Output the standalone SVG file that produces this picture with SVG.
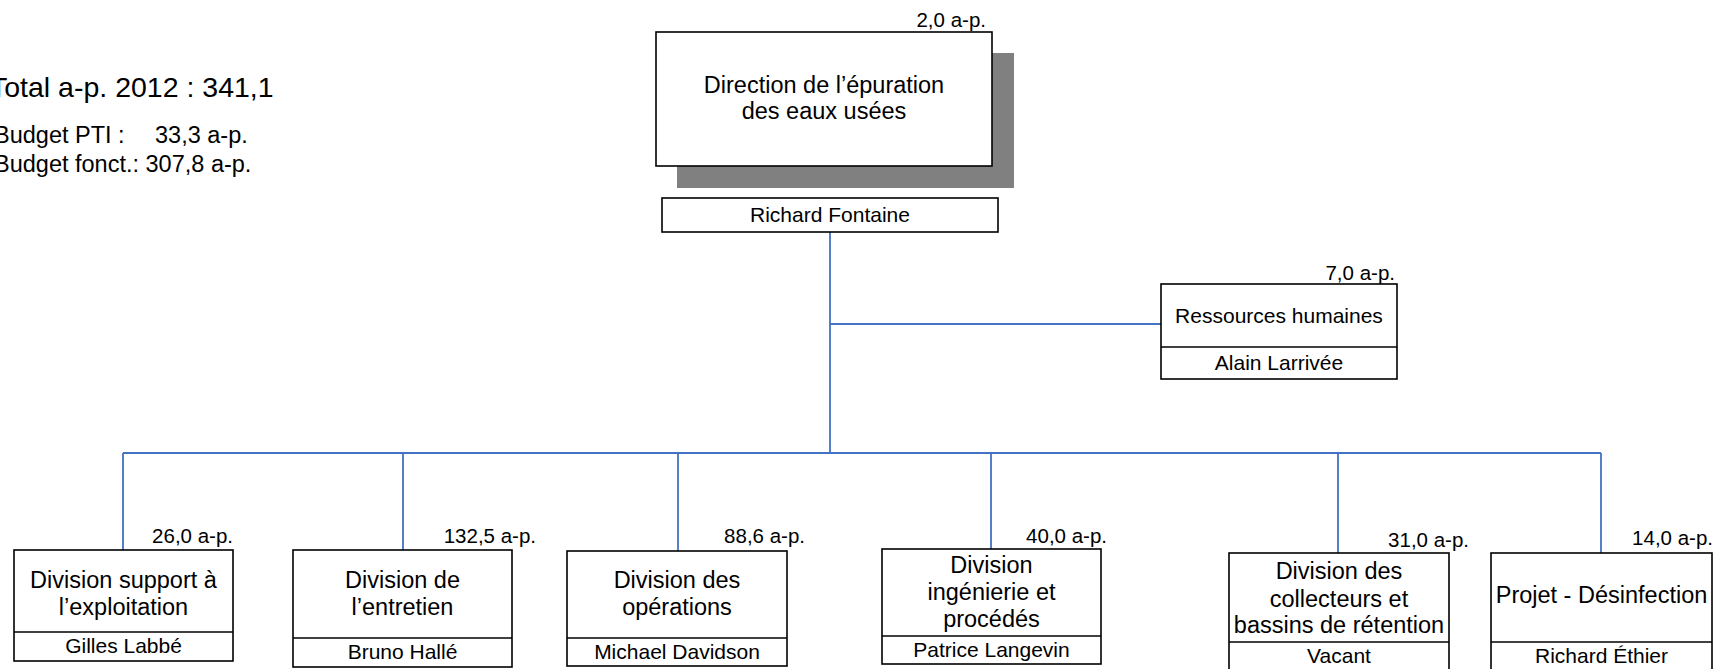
<svg xmlns="http://www.w3.org/2000/svg" width="1724" height="669" viewBox="0 0 1724 669">
<style>
text{font-family:"Liberation Sans",Arial,sans-serif;fill:#000}
.box{fill:#fff;stroke:#000;stroke-width:1.6}
.div{stroke:#000;stroke-width:1.6}
.lbl{font-size:23.5px;text-anchor:middle}
.nm{font-size:21px;text-anchor:middle}
.ap{font-size:20.5px;text-anchor:end}
.conn{stroke:#4472C4;stroke-width:1.8;fill:none}
</style>
<rect width="1724" height="669" fill="#fff"/>
<g id="summary">
<text x="-10" y="97" font-size="28.5">Total a-p. 2012 : 341,1</text>
<text x="-6" y="143" font-size="23.5">Budget PTI :<tspan x="155">33,3 a-p.</tspan></text>
<text x="-6" y="172" font-size="23.5">Budget fonct.: 307,8 a-p.</text>
</g>
<g id="connectors">
<path class="conn" d="M830 232V453M830 324H1161M123 453H1601M123 453V550M403 453V550M678 453V551M991 453V549M1338 453V553M1601 453V553"/>
</g>
<g id="direction">
<rect x="677" y="53" width="337" height="135" fill="#808080"/>
<rect class="box" x="656" y="32" width="336" height="134"/>
<text class="ap" x="986" y="27">2,0 a-p.</text>
<text class="lbl" x="824" y="93">Direction de l’épuration</text>
<text class="lbl" x="824" y="119">des eaux usées</text>
<rect class="box" x="662" y="198" width="336" height="34"/>
<text class="nm" x="830" y="222">Richard Fontaine</text>
</g>
<g id="rh">
<rect class="box" x="1161" y="284" width="236" height="95"/>
<line class="div" x1="1161" y1="347" x2="1397" y2="347"/>
<text class="ap" x="1395" y="280">7,0 a-p.</text>
<text x="1279" y="323" font-size="21" text-anchor="middle">Ressources humaines</text>
<text class="nm" x="1279" y="370">Alain Larrivée</text>
</g>
<g id="div-support">
<rect class="box" x="14" y="550" width="219" height="111"/>
<line class="div" x1="14" y1="632" x2="233" y2="632"/>
<text class="ap" x="233" y="543">26,0 a-p.</text>
<text class="lbl" x="123.5" y="588">Division support à</text>
<text class="lbl" x="123.5" y="615">l’exploitation</text>
<text class="nm" x="123.5" y="653">Gilles Labbé</text>
</g>
<g id="div-entretien">
<rect class="box" x="293" y="550" width="219" height="117"/>
<line class="div" x1="293" y1="638" x2="512" y2="638"/>
<text class="ap" x="536" y="543">132,5 a-p.</text>
<text class="lbl" x="402.5" y="588">Division de</text>
<text class="lbl" x="402.5" y="615">l’entretien</text>
<text class="nm" x="402.5" y="659">Bruno Hallé</text>
</g>
<g id="div-operations">
<rect class="box" x="567" y="551" width="220" height="115"/>
<line class="div" x1="567" y1="638" x2="787" y2="638"/>
<text class="ap" x="805" y="543">88,6 a-p.</text>
<text class="lbl" x="677" y="588">Division des</text>
<text class="lbl" x="677" y="615">opérations</text>
<text class="nm" x="677" y="659">Michael Davidson</text>
</g>
<g id="div-ingenierie">
<rect class="box" x="882" y="549" width="219" height="115"/>
<line class="div" x1="882" y1="636" x2="1101" y2="636"/>
<text class="ap" x="1107" y="543">40,0 a-p.</text>
<text class="lbl" x="991.5" y="573">Division</text>
<text class="lbl" x="991.5" y="600">ingénierie et</text>
<text class="lbl" x="991.5" y="627">procédés</text>
<text class="nm" x="991.5" y="657">Patrice Langevin</text>
</g>
<g id="div-collecteurs">
<rect class="box" x="1229" y="553" width="220" height="122"/>
<line class="div" x1="1229" y1="642" x2="1449" y2="642"/>
<text class="ap" x="1469" y="547">31,0 a-p.</text>
<text class="lbl" x="1339" y="579">Division des</text>
<text class="lbl" x="1339" y="607">collecteurs et</text>
<text class="lbl" x="1339" y="633">bassins de rétention</text>
<text class="nm" x="1339" y="663">Vacant</text>
</g>
<g id="projet-desinfection">
<rect class="box" x="1491" y="553" width="221" height="122"/>
<line class="div" x1="1491" y1="642" x2="1712" y2="642"/>
<text class="ap" x="1713" y="545">14,0 a-p.</text>
<text class="lbl" x="1601.5" y="603">Projet - Désinfection</text>
<text class="nm" x="1601.5" y="663">Richard Éthier</text>
</g>
</svg>
